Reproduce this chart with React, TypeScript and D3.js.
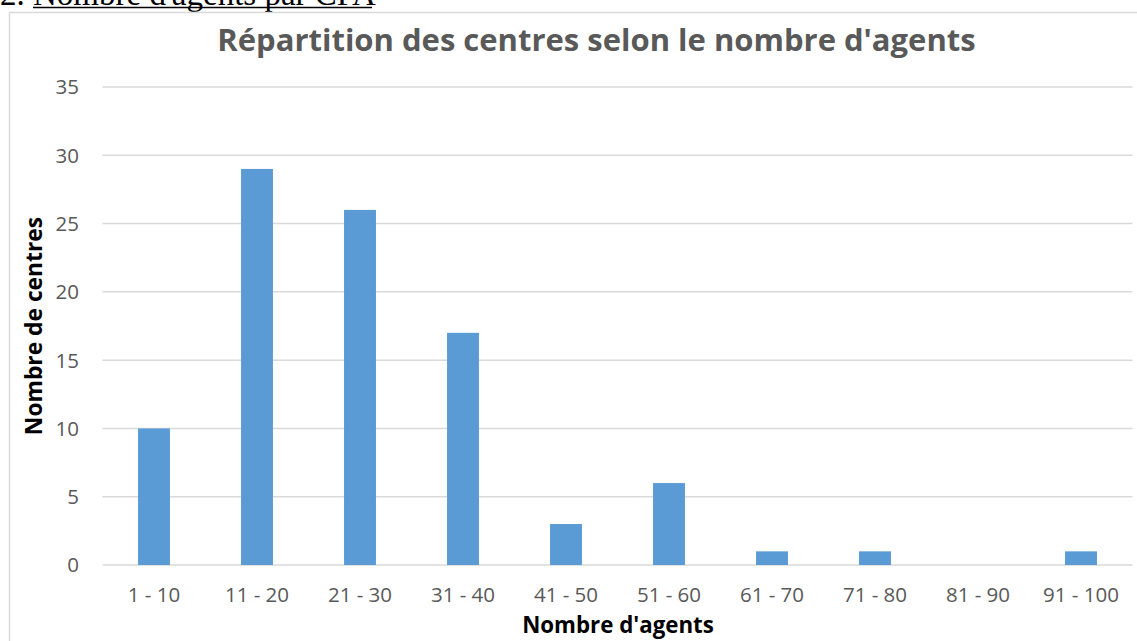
import React from "react";
import * as d3 from "d3";

const categories = ["1 - 10", "11 - 20", "21 - 30", "31 - 40", "41 - 50", "51 - 60", "61 - 70", "71 - 80", "81 - 90", "91 - 100"];
const values = [10, 29, 26, 17, 3, 6, 1, 1, 0, 1];
const yTicks = [0, 5, 10, 15, 20, 25, 30, 35];

const W = 1137;
const H = 641;
const plot = { left: 102.5, right: 1132.5, top: 87, bottom: 565 };
const FONT = "'Open Sans', Lato, sans-serif";

export default function App() {
  const x = d3.scaleBand<string>().domain(categories).range([plot.left, plot.right]).paddingInner(0.69).paddingOuter(0.345);
  const y = d3.scaleLinear().domain([0, 35]).range([plot.bottom, plot.top]);
  return (
    <svg width={W} height={H} style={{ position: "absolute", left: 0, top: 0, background: "#fff" }}>
      <text x={0} y={5} fontFamily="'Liberation Serif', 'Times New Roman', serif" fontSize={33} fill="#000">
        2. Nombre d'agents par CPA
      </text>
      <line x1={33} x2={372} y1={7.5} y2={7.5} stroke="#000" strokeWidth={1.5} />
      <rect x={9.5} y={12.5} width={W + 10} height={H} fill="#fff" stroke="#d9d9d9" strokeWidth={1.5} />
      <text x={596.5} y={51} textAnchor="middle" fontFamily={FONT} fontWeight="bold" fontSize={31} fill="#595959">
        Répartition des centres selon le nombre d'agents
      </text>
      {yTicks.map((t) => (
        <g key={t}>
          <line x1={plot.left} x2={plot.right} y1={y(t)} y2={y(t)} stroke="#d9d9d9" strokeWidth={1.5} />
          <text x={79} y={y(t)} dy="0.36em" textAnchor="end" fontFamily={FONT} fontSize={20.5} fill="#595959">
            {t}
          </text>
        </g>
      ))}
      {categories.map((c, i) => (
        <rect key={c} x={x(c)} y={y(values[i])} width={x.bandwidth()} height={y(0) - y(values[i])} fill="#5b9bd5" />
      ))}
      {categories.map((c) => (
        <text key={c} x={(x(c) as number) + x.bandwidth() / 2} y={602} textAnchor="middle" fontFamily={FONT} fontSize={20.5} fill="#595959">
          {c}
        </text>
      ))}
      <text x={618} y={633} textAnchor="middle" fontFamily={FONT} fontWeight="bold" fontSize={22.3} fill="#000">
        Nombre d'agents
      </text>
      <text transform={`translate(42,326) rotate(-90)`} textAnchor="middle" fontFamily={FONT} fontWeight="bold" fontSize={22.8} fill="#000">
        Nombre de centres
      </text>
    </svg>
  );
}
